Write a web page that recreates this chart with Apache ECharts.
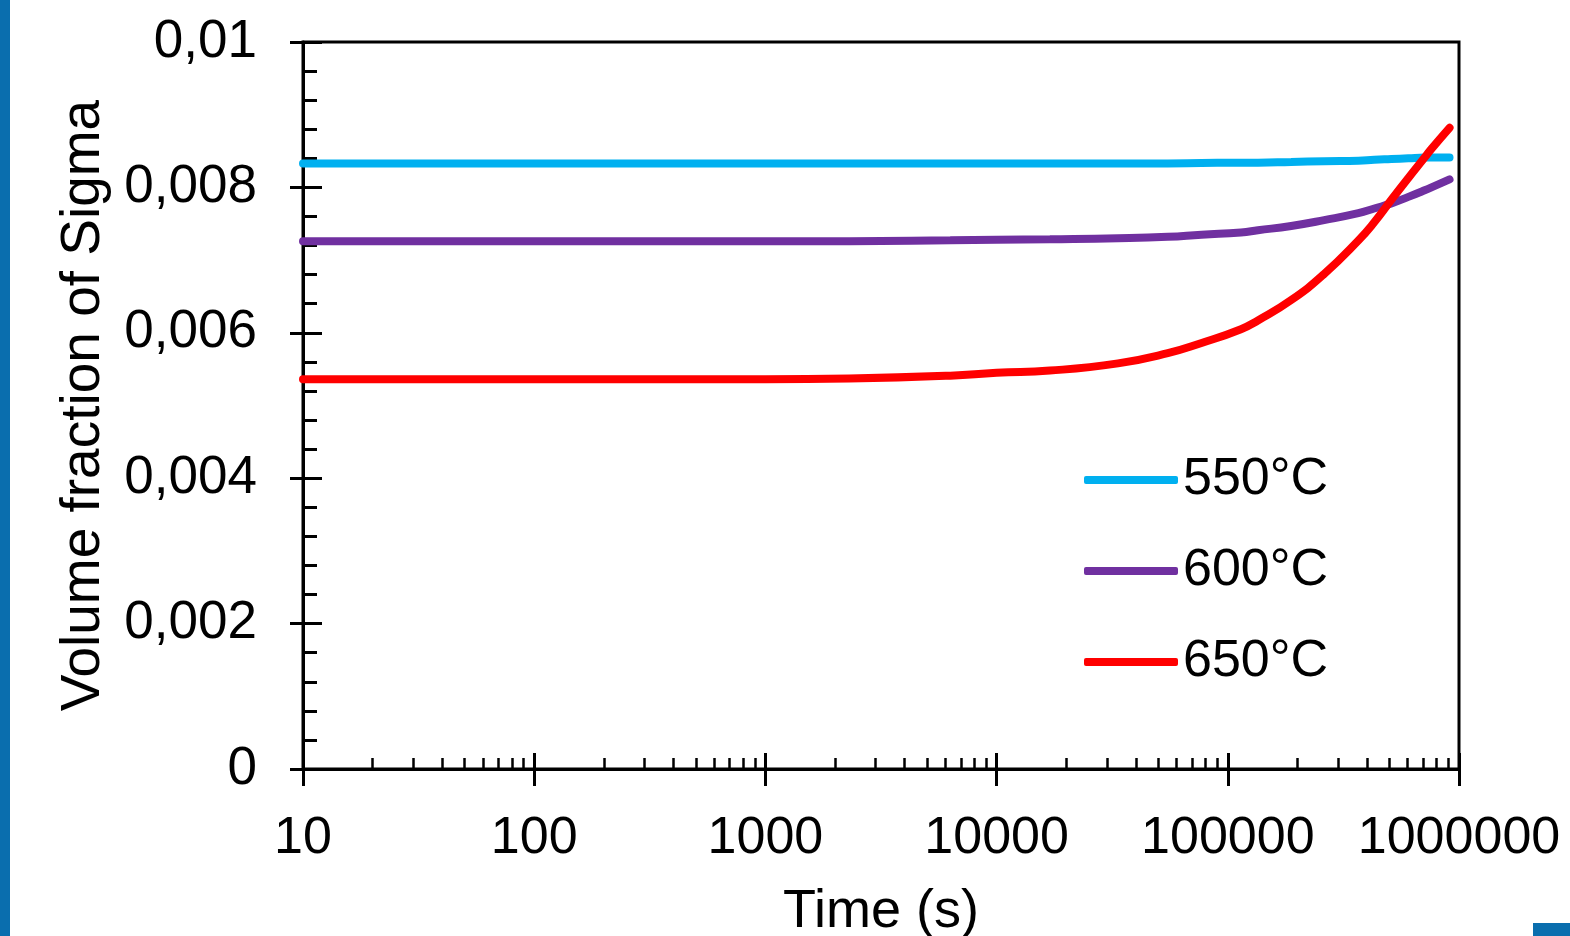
<!DOCTYPE html>
<html>
<head>
<meta charset="utf-8">
<script src="https://cdn.jsdelivr.net/npm/echarts@6/dist/echarts.min.js"></script>
<style>
  html, body { margin: 0; padding: 0; background: #fff; }
  #chart { width: 1570px; height: 936px; }
</style>
</head>
<body>
<div id="chart"></div>
<script>
// time (s), log scale
var times = [10, 100, 1000, 2300, 6300, 10000, 17000, 33500, 55000, 77000, 114000, 135000, 188000, 261000, 367000, 430000, 510000, 604000, 710000, 760000, 910000];
var sigma550 = [0.00833, 0.00833, 0.00833, 0.00833, 0.00833, 0.00833, 0.00833, 0.00833, 0.00833, 0.008335, 0.00834, 0.00834, 0.00835, 0.00836, 0.008365, 0.00838, 0.00839, 0.0084, 0.00841, 0.00841, 0.00841];
var sigma600 = [0.00726, 0.00726, 0.00726, 0.00726, 0.007272, 0.00728, 0.007287, 0.0073, 0.00732, 0.00735, 0.00738, 0.00741, 0.00747, 0.00755, 0.007645, 0.00771, 0.00778, 0.00787, 0.00796, 0.0080, 0.00811];
var sigma650 = [0.00536, 0.00536, 0.00536, 0.00537, 0.00541, 0.00545, 0.00548, 0.00558, 0.00572, 0.00586, 0.00605, 0.00617, 0.00645, 0.00681, 0.00727, 0.00752, 0.00783, 0.00813, 0.00841, 0.00853, 0.00882];
var seriesNames = ['550°C', '600°C', '650°C'];
var colors = ['#00B0F0', '#7030A0', '#FF0000'];
// minor ticks on the log axis (2..9 of every decade)
var minorTimes = [];
[10, 100, 1000, 10000, 100000].forEach(function (d) {
    for (var k = 2; k <= 9; k++) minorTimes.push(d * k);
});

function pairs(vals) {
    return times.map(function (t, i) { return [t, vals[i]]; });
}

var font = 'Liberation Sans, Arial, sans-serif';
var myChart = echarts.init(document.getElementById('chart'));

var option = {
    animation: false,
    backgroundColor: '#fff',
    grid: {
        left: 303, right: 111, top: 42, bottom: 167,
        outerBoundsMode: 'none',
        show: true, borderColor: '#000', borderWidth: 3, backgroundColor: 'transparent'
    },
    legend: {
        orient: 'vertical',
        left: 1079, top: 449,
        itemWidth: 94, itemHeight: 8, itemGap: 39,
        icon: 'roundRect',
        textStyle: { fontSize: 52, color: '#000', fontFamily: font },
        data: seriesNames
    },
    xAxis: [
        {
            type: 'log', logBase: 10, min: 10, max: 1000000,
            name: 'Time (s)', nameLocation: 'middle', nameGap: 116,
            nameTextStyle: { fontSize: 54, color: '#000', fontFamily: font },
            axisLine: { onZero: false, lineStyle: { color: '#000', width: 3 } },
            axisTick: { inside: true, length: 16, lineStyle: { color: '#000', width: 3 } },
            axisLabel: {
                fontSize: 52, color: '#000', fontFamily: font, margin: 44,
                formatter: function (v) { return String(Math.round(v)); }
            },
            splitLine: { show: false }
        },
        {
            type: 'log', logBase: 10, min: 10, max: 1000000, position: 'bottom',
            axisLine: { show: false, onZero: false },
            axisTick: { inside: false, length: 17, lineStyle: { color: '#000', width: 3 } },
            axisLabel: { show: false },
            splitLine: { show: false }
        },
        {
            type: 'log', logBase: 10, min: 10, max: 1000000, position: 'bottom',
            axisLine: { show: false, onZero: false },
            axisTick: { inside: true, length: 11, customValues: minorTimes, lineStyle: { color: '#000', width: 2.5 } },
            axisLabel: { show: false },
            splitLine: { show: false }
        }
    ],
    yAxis: [
        {
            type: 'value', min: 0, max: 0.01, interval: 0.002,
            name: 'Volume fraction of Sigma', nameLocation: 'middle', nameGap: 192,
            nameTextStyle: { fontSize: 55, color: '#000', fontFamily: font },
            axisLine: { onZero: false, lineStyle: { color: '#000', width: 3 } },
            axisTick: { inside: true, length: 19, lineStyle: { color: '#000', width: 3 } },
            minorTick: { show: true, splitNumber: 5, length: 14, lineStyle: { color: '#000', width: 3 } },
            axisLabel: {
                fontSize: 53, color: '#000', fontFamily: font, margin: 46,
                formatter: function (v) { return String(+v.toFixed(4)).replace('.', ','); }
            },
            splitLine: { show: false }
        },
        {
            type: 'value', min: 0, max: 0.01, interval: 0.002, position: 'left',
            axisLine: { show: false, onZero: false },
            axisTick: { inside: false, length: 13, lineStyle: { color: '#000', width: 3 } },
            axisLabel: { show: false },
            splitLine: { show: false }
        }
    ],
    series: [sigma550, sigma600, sigma650].map(function (vals, i) {
        return {
            name: seriesNames[i],
            type: 'line',
            xAxisIndex: 0, yAxisIndex: 0,
            symbol: 'none',
            smooth: 0.5,
            color: colors[i],
            lineStyle: { width: 8, color: colors[i], cap: 'round' },
            data: pairs(vals)
        };
    }),
    graphic: [
        { type: 'rect', left: 0, top: 0, shape: { width: 10, height: 936 }, style: { fill: '#0A6EAE' } },
        { type: 'rect', left: 1533, top: 923, shape: { width: 37, height: 13 }, style: { fill: '#0A6EAE' } }
    ]
};
myChart.setOption(option);
</script>
</body>
</html>
